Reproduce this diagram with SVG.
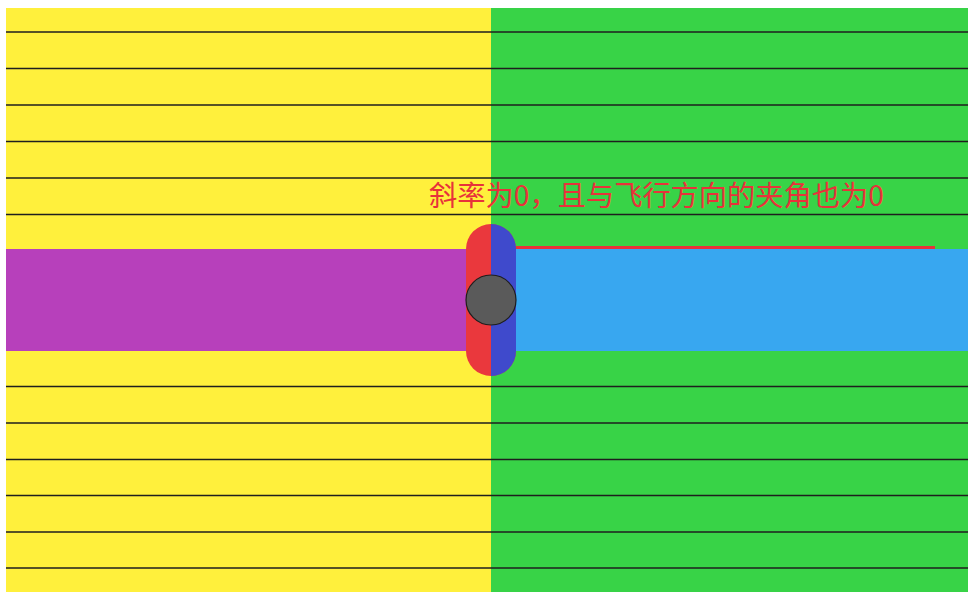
<svg xmlns="http://www.w3.org/2000/svg" width="968" height="592" viewBox="0 0 968 592">
<style>
.hl{stroke:#1e1e1e;stroke-width:1.5;fill:none}
.lbl{font-family:"Noto Sans CJK SC","Noto Sans",sans-serif;font-size:28.5px;fill:#e8323a}
</style>
<rect x="0" y="0" width="968" height="592" fill="#ffffff"/>
<g id="background">
<rect x="6" y="8" width="485" height="584" fill="#fff03c"/>
<rect x="491" y="8" width="477" height="584" fill="#38d347"/>
</g>
<g id="lines">
<line class="hl" x1="6" y1="32" x2="968" y2="32"/>
<line class="hl" x1="6" y1="68.5" x2="968" y2="68.5"/>
<line class="hl" x1="6" y1="105" x2="968" y2="105"/>
<line class="hl" x1="6" y1="141.5" x2="968" y2="141.5"/>
<line class="hl" x1="6" y1="178" x2="968" y2="178"/>
<line class="hl" x1="6" y1="214.5" x2="968" y2="214.5"/>
<line class="hl" x1="6" y1="386.5" x2="968" y2="386.5"/>
<line class="hl" x1="6" y1="423" x2="968" y2="423"/>
<line class="hl" x1="6" y1="459.5" x2="968" y2="459.5"/>
<line class="hl" x1="6" y1="495.5" x2="968" y2="495.5"/>
<line class="hl" x1="6" y1="532" x2="968" y2="532"/>
<line class="hl" x1="6" y1="568" x2="968" y2="568"/>
</g>
<g id="bands">
<rect x="6" y="249" width="485" height="102" fill="#b740bb"/>
<rect x="491" y="249" width="477" height="102" fill="#38a7f0"/>
</g>
<g id="connectors">
<line x1="516" y1="247.5" x2="935" y2="247.5" stroke="#e8323a" stroke-width="3"/>
</g>
<g id="capsule">
<rect x="466" y="224" width="50" height="152" rx="25" ry="25" fill="#ea383d"/>
<path d="M491,224 A25,25 0 0 1 516,249 V351 A25,25 0 0 1 491,376 Z" fill="#3f4acc"/>
</g>
<g id="ball">
<circle cx="491" cy="300" r="25" fill="#5a5a5a" stroke="#1e1e1e" stroke-width="1.2"/>
</g>
<g id="label">
<text class="lbl" x="429" y="206" textLength="455" lengthAdjust="spacingAndGlyphs">斜率为0，且与飞行方向的夹角也为0</text>
</g>
</svg>
